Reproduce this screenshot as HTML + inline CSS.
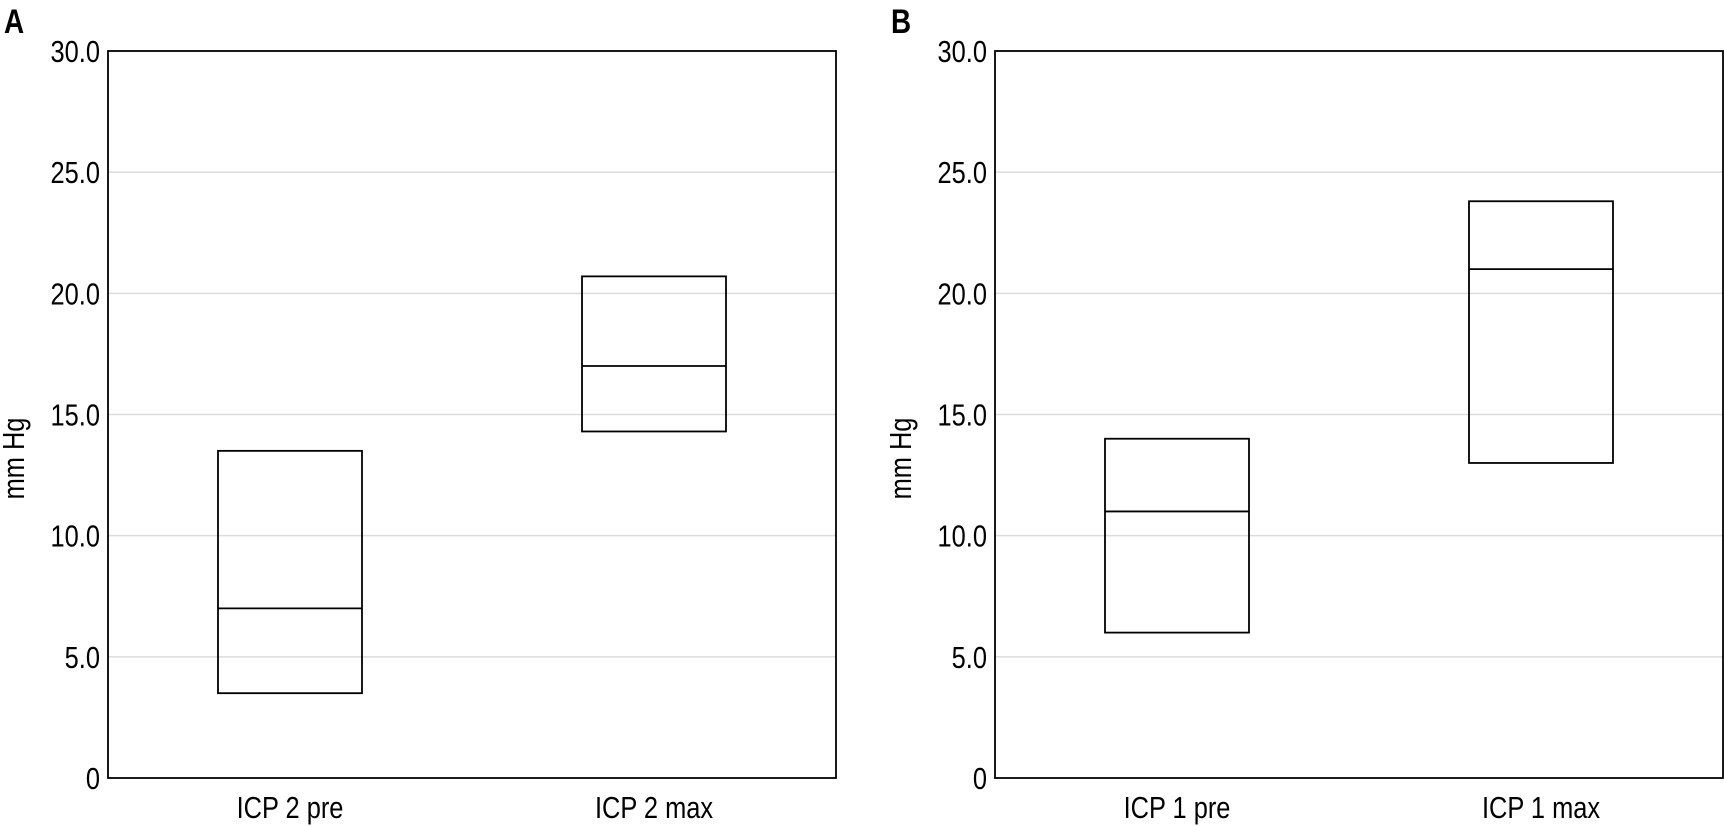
<!DOCTYPE html>
<html><head><meta charset="utf-8"><style>
html,body{margin:0;padding:0;background:#fff;}
svg{display:block;font-family:"Liberation Sans Narrow","Liberation Sans",sans-serif;}
</style></head><body>
<svg id="chart" width="1724" height="826" xmlns="http://www.w3.org/2000/svg"></svg>
<script>
const yTicks = [0, 5, 10, 15, 20, 25, 30];
const yTickLabels = ["0", "5.0", "10.0", "15.0", "20.0", "25.0", "30.0"];
const catsA = ["ICP 2 pre", "ICP 2 max"];
const q1A = [3.5, 14.3];
const medA = [7.0, 17.0];
const q3A = [13.5, 20.7];
const catsB = ["ICP 1 pre", "ICP 1 max"];
const q1B = [6.0, 13.0];
const medB = [11.0, 21.0];
const q3B = [14.0, 23.8];

const NS = "http://www.w3.org/2000/svg";
const svg = document.getElementById('chart');
function mk(tag, attrs, parent) {
  const e = document.createElementNS(NS, tag);
  for (const k in attrs) e.setAttribute(k, attrs[k]);
  (parent || svg).appendChild(e);
  return e;
}
function txt(parent, x, y, s, anchor, size, extra) {
  const t = mk('text', {x: 0, y: 0, 'text-anchor': anchor, 'font-size': size, fill: '#000',
    transform: `translate(${x},${y}) ${extra || ''} scale(0.82,1)`}, parent);
  t.textContent = s;
  return t;
}
function panel(letter, left, cats, q1, med, q3) {
  const right = left + 728, top = 51, bottom = 778;
  const g = mk('g', {});
  
  
  const y = v => bottom - (v / 30) * (bottom - top);
  const bw = (right - left) / cats.length;
  const x = i => left + bw * (i + 0.5);
  yTicks.forEach((t, i) => {
    if (t > 0 && t < 30) {
      const gl = mk('line', {x1: left, x2: right, y1: y(t), y2: y(t), stroke: '#dcdcdc', 'stroke-width': 1.5}, g);
      
      
    }
    const tl = txt(g, left - 8, y(t) + 11, yTickLabels[i], 'end', 31);
    
    
  });
  const fr = mk('rect', {x: left, y: top, width: right - left, height: bottom - top, fill: 'none', stroke: '#000', 'stroke-width': 1.8}, g);
  
  
  cats.forEach((c, i) => {
    const w = 144;
    const b = mk('rect', {x: x(i) - w / 2, y: y(q3[i]), width: w, height: y(q1[i]) - y(q3[i]), fill: 'none', stroke: '#000', 'stroke-width': 1.8}, g);
    
    
    const m = mk('line', {x1: x(i) - w / 2, x2: x(i) + w / 2, y1: y(med[i]), y2: y(med[i]), stroke: '#000', 'stroke-width': 1.8}, g);
    
    
    const xl = txt(g, x(i), 818, c, 'middle', 31);
    
    
  });
  const yt = txt(g, left - 84, (top + bottom) / 2 + 44, 'mm Hg', 'middle', 31, 'rotate(-90)');
  
  
  const pl = txt(g, left - 104, 33, letter, 'start', 34);
  pl.setAttribute('font-weight', 'bold');
  
  
}
panel('A', 108, catsA, q1A, medA, q3A);
panel('B', 995, catsB, q1B, medB, q3B);
</script>
</body></html>
